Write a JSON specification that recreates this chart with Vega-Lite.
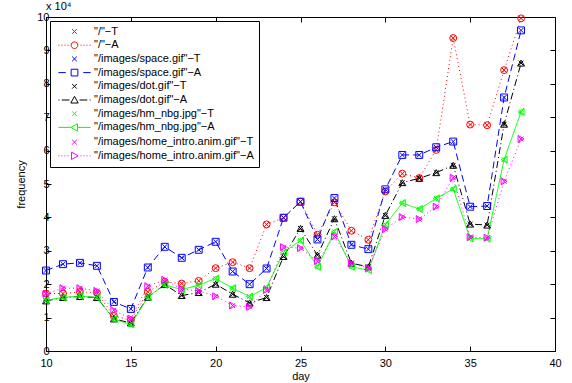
{
  "$schema": "https://vega.github.io/schema/vega-lite/v6.json",
  "width": 509,
  "height": 334,
  "autosize": {"type": "none"},
  "padding": {"left": 46, "top": 17, "right": 17, "bottom": 32},
  "background": "white",
  "title": {"text": "x 10⁴", "anchor": "start", "frame": "group", "fontSize": 11, "fontWeight": "normal", "font": "Liberation Sans", "offset": 3, "dy": 4, "color": "black"},
  "config": {
    "view": {"stroke": "black", "strokeWidth": 1},
    "font": "Liberation Sans",
    "axis": {"labelFont": "Liberation Sans", "titleFont": "Liberation Sans", "labelFontSize": 11, "titleFontSize": 11, "titleFontWeight": "normal", "labelColor": "black", "titleColor": "black", "domainColor": "black", "tickColor": "black", "grid": false},
    "legend": {"orient": "top-left", "offset": 4, "padding": 5, "fillColor": "white", "strokeColor": "black", "cornerRadius": 0, "labelFont": "Liberation Sans", "labelFontSize": 11, "labelColor": "black", "labelLimit": 300, "symbolOffset": 14, "labelOffset": 14, "rowPadding": 1.7, "symbolStrokeWidth": 1, "symbolSize": 45}
  },
  "resolve": {"axis": {"x": "independent", "y": "independent"}, "scale": {"shape": "independent", "color": "independent"}},
  "data": {"values": [
{"d":10,"s":"\"/\"−T","f":17200},{"d":11,"s":"\"/\"−T","f":17200},{"d":12,"s":"\"/\"−T","f":17700},{"d":13,"s":"\"/\"−T","f":17500},{"d":14,"s":"\"/\"−T","f":10500},{"d":15,"s":"\"/\"−T","f":9200},{"d":16,"s":"\"/\"−T","f":17700},{"d":17,"s":"\"/\"−T","f":20700},{"d":18,"s":"\"/\"−T","f":20200},{"d":19,"s":"\"/\"−T","f":21000},{"d":20,"s":"\"/\"−T","f":24800},{"d":21,"s":"\"/\"−T","f":26600},{"d":22,"s":"\"/\"−T","f":24800},{"d":23,"s":"\"/\"−T","f":37900},{"d":24,"s":"\"/\"−T","f":39900},{"d":25,"s":"\"/\"−T","f":44700},{"d":26,"s":"\"/\"−T","f":34800},{"d":27,"s":"\"/\"−T","f":44500},{"d":28,"s":"\"/\"−T","f":36000},{"d":29,"s":"\"/\"−T","f":33300},{"d":30,"s":"\"/\"−T","f":47800},{"d":31,"s":"\"/\"−T","f":53100},{"d":32,"s":"\"/\"−T","f":51800},{"d":33,"s":"\"/\"−T","f":60200},{"d":34,"s":"\"/\"−T","f":93700},{"d":35,"s":"\"/\"−T","f":67800},{"d":36,"s":"\"/\"−T","f":67600},{"d":37,"s":"\"/\"−T","f":84100},{"d":38,"s":"\"/\"−T","f":99600},
{"d":10,"s":"\"/\"−A","f":17200},{"d":11,"s":"\"/\"−A","f":17200},{"d":12,"s":"\"/\"−A","f":17700},{"d":13,"s":"\"/\"−A","f":17500},{"d":14,"s":"\"/\"−A","f":10500},{"d":15,"s":"\"/\"−A","f":9200},{"d":16,"s":"\"/\"−A","f":17700},{"d":17,"s":"\"/\"−A","f":20700},{"d":18,"s":"\"/\"−A","f":20200},{"d":19,"s":"\"/\"−A","f":21000},{"d":20,"s":"\"/\"−A","f":24800},{"d":21,"s":"\"/\"−A","f":26600},{"d":22,"s":"\"/\"−A","f":24800},{"d":23,"s":"\"/\"−A","f":37900},{"d":24,"s":"\"/\"−A","f":39900},{"d":25,"s":"\"/\"−A","f":44700},{"d":26,"s":"\"/\"−A","f":34800},{"d":27,"s":"\"/\"−A","f":44500},{"d":28,"s":"\"/\"−A","f":36000},{"d":29,"s":"\"/\"−A","f":33300},{"d":30,"s":"\"/\"−A","f":47800},{"d":31,"s":"\"/\"−A","f":53100},{"d":32,"s":"\"/\"−A","f":51800},{"d":33,"s":"\"/\"−A","f":60200},{"d":34,"s":"\"/\"−A","f":93700},{"d":35,"s":"\"/\"−A","f":67800},{"d":36,"s":"\"/\"−A","f":67600},{"d":37,"s":"\"/\"−A","f":84100},{"d":38,"s":"\"/\"−A","f":99600},
{"d":10,"s":"\"/images/space.gif\"−T","f":24100},{"d":11,"s":"\"/images/space.gif\"−T","f":26000},{"d":12,"s":"\"/images/space.gif\"−T","f":26400},{"d":13,"s":"\"/images/space.gif\"−T","f":25500},{"d":14,"s":"\"/images/space.gif\"−T","f":14700},{"d":15,"s":"\"/images/space.gif\"−T","f":12600},{"d":16,"s":"\"/images/space.gif\"−T","f":25000},{"d":17,"s":"\"/images/space.gif\"−T","f":31200},{"d":18,"s":"\"/images/space.gif\"−T","f":27900},{"d":19,"s":"\"/images/space.gif\"−T","f":30300},{"d":20,"s":"\"/images/space.gif\"−T","f":32700},{"d":21,"s":"\"/images/space.gif\"−T","f":23800},{"d":22,"s":"\"/images/space.gif\"−T","f":20000},{"d":23,"s":"\"/images/space.gif\"−T","f":24700},{"d":24,"s":"\"/images/space.gif\"−T","f":39900},{"d":25,"s":"\"/images/space.gif\"−T","f":44700},{"d":26,"s":"\"/images/space.gif\"−T","f":33400},{"d":27,"s":"\"/images/space.gif\"−T","f":45800},{"d":28,"s":"\"/images/space.gif\"−T","f":31800},{"d":29,"s":"\"/images/space.gif\"−T","f":30500},{"d":30,"s":"\"/images/space.gif\"−T","f":48400},{"d":31,"s":"\"/images/space.gif\"−T","f":58700},{"d":32,"s":"\"/images/space.gif\"−T","f":58700},{"d":33,"s":"\"/images/space.gif\"−T","f":61000},{"d":34,"s":"\"/images/space.gif\"−T","f":62700},{"d":35,"s":"\"/images/space.gif\"−T","f":43200},{"d":36,"s":"\"/images/space.gif\"−T","f":43400},{"d":37,"s":"\"/images/space.gif\"−T","f":75900},{"d":38,"s":"\"/images/space.gif\"−T","f":96000},
{"d":10,"s":"\"/images/space.gif\"−A","f":24100},{"d":11,"s":"\"/images/space.gif\"−A","f":26000},{"d":12,"s":"\"/images/space.gif\"−A","f":26400},{"d":13,"s":"\"/images/space.gif\"−A","f":25500},{"d":14,"s":"\"/images/space.gif\"−A","f":14700},{"d":15,"s":"\"/images/space.gif\"−A","f":12600},{"d":16,"s":"\"/images/space.gif\"−A","f":25000},{"d":17,"s":"\"/images/space.gif\"−A","f":31200},{"d":18,"s":"\"/images/space.gif\"−A","f":27900},{"d":19,"s":"\"/images/space.gif\"−A","f":30300},{"d":20,"s":"\"/images/space.gif\"−A","f":32700},{"d":21,"s":"\"/images/space.gif\"−A","f":23800},{"d":22,"s":"\"/images/space.gif\"−A","f":20000},{"d":23,"s":"\"/images/space.gif\"−A","f":24700},{"d":24,"s":"\"/images/space.gif\"−A","f":39900},{"d":25,"s":"\"/images/space.gif\"−A","f":44700},{"d":26,"s":"\"/images/space.gif\"−A","f":33400},{"d":27,"s":"\"/images/space.gif\"−A","f":45800},{"d":28,"s":"\"/images/space.gif\"−A","f":31800},{"d":29,"s":"\"/images/space.gif\"−A","f":30500},{"d":30,"s":"\"/images/space.gif\"−A","f":48400},{"d":31,"s":"\"/images/space.gif\"−A","f":58700},{"d":32,"s":"\"/images/space.gif\"−A","f":58700},{"d":33,"s":"\"/images/space.gif\"−A","f":61000},{"d":34,"s":"\"/images/space.gif\"−A","f":62700},{"d":35,"s":"\"/images/space.gif\"−A","f":43200},{"d":36,"s":"\"/images/space.gif\"−A","f":43400},{"d":37,"s":"\"/images/space.gif\"−A","f":75900},{"d":38,"s":"\"/images/space.gif\"−A","f":96000},
{"d":10,"s":"\"/images/dot.gif\"−T","f":15000},{"d":11,"s":"\"/images/dot.gif\"−T","f":16000},{"d":12,"s":"\"/images/dot.gif\"−T","f":16300},{"d":13,"s":"\"/images/dot.gif\"−T","f":16000},{"d":14,"s":"\"/images/dot.gif\"−T","f":9600},{"d":15,"s":"\"/images/dot.gif\"−T","f":8400},{"d":16,"s":"\"/images/dot.gif\"−T","f":16100},{"d":17,"s":"\"/images/dot.gif\"−T","f":19900},{"d":18,"s":"\"/images/dot.gif\"−T","f":16600},{"d":19,"s":"\"/images/dot.gif\"−T","f":17500},{"d":20,"s":"\"/images/dot.gif\"−T","f":20000},{"d":21,"s":"\"/images/dot.gif\"−T","f":17000},{"d":22,"s":"\"/images/dot.gif\"−T","f":14400},{"d":23,"s":"\"/images/dot.gif\"−T","f":16000},{"d":24,"s":"\"/images/dot.gif\"−T","f":28300},{"d":25,"s":"\"/images/dot.gif\"−T","f":36700},{"d":26,"s":"\"/images/dot.gif\"−T","f":28700},{"d":27,"s":"\"/images/dot.gif\"−T","f":39600},{"d":28,"s":"\"/images/dot.gif\"−T","f":26300},{"d":29,"s":"\"/images/dot.gif\"−T","f":25200},{"d":30,"s":"\"/images/dot.gif\"−T","f":40600},{"d":31,"s":"\"/images/dot.gif\"−T","f":50400},{"d":32,"s":"\"/images/dot.gif\"−T","f":51700},{"d":33,"s":"\"/images/dot.gif\"−T","f":53400},{"d":34,"s":"\"/images/dot.gif\"−T","f":55600},{"d":35,"s":"\"/images/dot.gif\"−T","f":38000},{"d":36,"s":"\"/images/dot.gif\"−T","f":37700},{"d":37,"s":"\"/images/dot.gif\"−T","f":67900},{"d":38,"s":"\"/images/dot.gif\"−T","f":86200},
{"d":10,"s":"\"/images/dot.gif\"−A","f":15000},{"d":11,"s":"\"/images/dot.gif\"−A","f":16000},{"d":12,"s":"\"/images/dot.gif\"−A","f":16300},{"d":13,"s":"\"/images/dot.gif\"−A","f":16000},{"d":14,"s":"\"/images/dot.gif\"−A","f":9600},{"d":15,"s":"\"/images/dot.gif\"−A","f":8400},{"d":16,"s":"\"/images/dot.gif\"−A","f":16100},{"d":17,"s":"\"/images/dot.gif\"−A","f":19900},{"d":18,"s":"\"/images/dot.gif\"−A","f":16600},{"d":19,"s":"\"/images/dot.gif\"−A","f":17500},{"d":20,"s":"\"/images/dot.gif\"−A","f":20000},{"d":21,"s":"\"/images/dot.gif\"−A","f":17000},{"d":22,"s":"\"/images/dot.gif\"−A","f":14400},{"d":23,"s":"\"/images/dot.gif\"−A","f":16000},{"d":24,"s":"\"/images/dot.gif\"−A","f":28300},{"d":25,"s":"\"/images/dot.gif\"−A","f":36700},{"d":26,"s":"\"/images/dot.gif\"−A","f":28700},{"d":27,"s":"\"/images/dot.gif\"−A","f":39600},{"d":28,"s":"\"/images/dot.gif\"−A","f":26300},{"d":29,"s":"\"/images/dot.gif\"−A","f":25200},{"d":30,"s":"\"/images/dot.gif\"−A","f":40600},{"d":31,"s":"\"/images/dot.gif\"−A","f":50400},{"d":32,"s":"\"/images/dot.gif\"−A","f":51700},{"d":33,"s":"\"/images/dot.gif\"−A","f":53400},{"d":34,"s":"\"/images/dot.gif\"−A","f":55600},{"d":35,"s":"\"/images/dot.gif\"−A","f":38000},{"d":36,"s":"\"/images/dot.gif\"−A","f":37700},{"d":37,"s":"\"/images/dot.gif\"−A","f":67900},{"d":38,"s":"\"/images/dot.gif\"−A","f":86200},
{"d":10,"s":"\"/images/hm_nbg.jpg\"−T","f":15200},{"d":11,"s":"\"/images/hm_nbg.jpg\"−T","f":16000},{"d":12,"s":"\"/images/hm_nbg.jpg\"−T","f":16500},{"d":13,"s":"\"/images/hm_nbg.jpg\"−T","f":16000},{"d":14,"s":"\"/images/hm_nbg.jpg\"−T","f":9600},{"d":15,"s":"\"/images/hm_nbg.jpg\"−T","f":7900},{"d":16,"s":"\"/images/hm_nbg.jpg\"−T","f":16200},{"d":17,"s":"\"/images/hm_nbg.jpg\"−T","f":19800},{"d":18,"s":"\"/images/hm_nbg.jpg\"−T","f":18400},{"d":19,"s":"\"/images/hm_nbg.jpg\"−T","f":19700},{"d":20,"s":"\"/images/hm_nbg.jpg\"−T","f":21700},{"d":21,"s":"\"/images/hm_nbg.jpg\"−T","f":18800},{"d":22,"s":"\"/images/hm_nbg.jpg\"−T","f":16300},{"d":23,"s":"\"/images/hm_nbg.jpg\"−T","f":19000},{"d":24,"s":"\"/images/hm_nbg.jpg\"−T","f":29500},{"d":25,"s":"\"/images/hm_nbg.jpg\"−T","f":33100},{"d":26,"s":"\"/images/hm_nbg.jpg\"−T","f":25200},{"d":27,"s":"\"/images/hm_nbg.jpg\"−T","f":35700},{"d":28,"s":"\"/images/hm_nbg.jpg\"−T","f":25200},{"d":29,"s":"\"/images/hm_nbg.jpg\"−T","f":24200},{"d":30,"s":"\"/images/hm_nbg.jpg\"−T","f":37800},{"d":31,"s":"\"/images/hm_nbg.jpg\"−T","f":44300},{"d":32,"s":"\"/images/hm_nbg.jpg\"−T","f":42500},{"d":33,"s":"\"/images/hm_nbg.jpg\"−T","f":45700},{"d":34,"s":"\"/images/hm_nbg.jpg\"−T","f":48500},{"d":35,"s":"\"/images/hm_nbg.jpg\"−T","f":33700},{"d":36,"s":"\"/images/hm_nbg.jpg\"−T","f":33600},{"d":37,"s":"\"/images/hm_nbg.jpg\"−T","f":57300},{"d":38,"s":"\"/images/hm_nbg.jpg\"−T","f":71600},
{"d":10,"s":"\"/images/hm_nbg.jpg\"−A","f":15200},{"d":11,"s":"\"/images/hm_nbg.jpg\"−A","f":16000},{"d":12,"s":"\"/images/hm_nbg.jpg\"−A","f":16500},{"d":13,"s":"\"/images/hm_nbg.jpg\"−A","f":16000},{"d":14,"s":"\"/images/hm_nbg.jpg\"−A","f":9600},{"d":15,"s":"\"/images/hm_nbg.jpg\"−A","f":7900},{"d":16,"s":"\"/images/hm_nbg.jpg\"−A","f":16200},{"d":17,"s":"\"/images/hm_nbg.jpg\"−A","f":19800},{"d":18,"s":"\"/images/hm_nbg.jpg\"−A","f":18400},{"d":19,"s":"\"/images/hm_nbg.jpg\"−A","f":19700},{"d":20,"s":"\"/images/hm_nbg.jpg\"−A","f":21700},{"d":21,"s":"\"/images/hm_nbg.jpg\"−A","f":18800},{"d":22,"s":"\"/images/hm_nbg.jpg\"−A","f":16300},{"d":23,"s":"\"/images/hm_nbg.jpg\"−A","f":19000},{"d":24,"s":"\"/images/hm_nbg.jpg\"−A","f":29500},{"d":25,"s":"\"/images/hm_nbg.jpg\"−A","f":33100},{"d":26,"s":"\"/images/hm_nbg.jpg\"−A","f":25200},{"d":27,"s":"\"/images/hm_nbg.jpg\"−A","f":35700},{"d":28,"s":"\"/images/hm_nbg.jpg\"−A","f":25200},{"d":29,"s":"\"/images/hm_nbg.jpg\"−A","f":24200},{"d":30,"s":"\"/images/hm_nbg.jpg\"−A","f":37800},{"d":31,"s":"\"/images/hm_nbg.jpg\"−A","f":44300},{"d":32,"s":"\"/images/hm_nbg.jpg\"−A","f":42500},{"d":33,"s":"\"/images/hm_nbg.jpg\"−A","f":45700},{"d":34,"s":"\"/images/hm_nbg.jpg\"−A","f":48500},{"d":35,"s":"\"/images/hm_nbg.jpg\"−A","f":33700},{"d":36,"s":"\"/images/hm_nbg.jpg\"−A","f":33600},{"d":37,"s":"\"/images/hm_nbg.jpg\"−A","f":57300},{"d":38,"s":"\"/images/hm_nbg.jpg\"−A","f":71600},
{"d":10,"s":"\"/images/home_intro.anim.gif\"−T","f":17100},{"d":11,"s":"\"/images/home_intro.anim.gif\"−T","f":18800},{"d":12,"s":"\"/images/home_intro.anim.gif\"−T","f":18800},{"d":13,"s":"\"/images/home_intro.anim.gif\"−T","f":18000},{"d":14,"s":"\"/images/home_intro.anim.gif\"−T","f":12200},{"d":15,"s":"\"/images/home_intro.anim.gif\"−T","f":9700},{"d":16,"s":"\"/images/home_intro.anim.gif\"−T","f":19400},{"d":17,"s":"\"/images/home_intro.anim.gif\"−T","f":21300},{"d":18,"s":"\"/images/home_intro.anim.gif\"−T","f":18500},{"d":19,"s":"\"/images/home_intro.anim.gif\"−T","f":18000},{"d":20,"s":"\"/images/home_intro.anim.gif\"−T","f":16400},{"d":21,"s":"\"/images/home_intro.anim.gif\"−T","f":13600},{"d":22,"s":"\"/images/home_intro.anim.gif\"−T","f":13200},{"d":23,"s":"\"/images/home_intro.anim.gif\"−T","f":18300},{"d":24,"s":"\"/images/home_intro.anim.gif\"−T","f":31100},{"d":25,"s":"\"/images/home_intro.anim.gif\"−T","f":30800},{"d":26,"s":"\"/images/home_intro.anim.gif\"−T","f":26900},{"d":27,"s":"\"/images/home_intro.anim.gif\"−T","f":34300},{"d":28,"s":"\"/images/home_intro.anim.gif\"−T","f":26300},{"d":29,"s":"\"/images/home_intro.anim.gif\"−T","f":24800},{"d":30,"s":"\"/images/home_intro.anim.gif\"−T","f":36500},{"d":31,"s":"\"/images/home_intro.anim.gif\"−T","f":40100},{"d":32,"s":"\"/images/home_intro.anim.gif\"−T","f":39500},{"d":33,"s":"\"/images/home_intro.anim.gif\"−T","f":43200},{"d":34,"s":"\"/images/home_intro.anim.gif\"−T","f":51900},{"d":35,"s":"\"/images/home_intro.anim.gif\"−T","f":34100},{"d":36,"s":"\"/images/home_intro.anim.gif\"−T","f":33900},{"d":37,"s":"\"/images/home_intro.anim.gif\"−T","f":50800},{"d":38,"s":"\"/images/home_intro.anim.gif\"−T","f":63500},
{"d":10,"s":"\"/images/home_intro.anim.gif\"−A","f":17100},{"d":11,"s":"\"/images/home_intro.anim.gif\"−A","f":18800},{"d":12,"s":"\"/images/home_intro.anim.gif\"−A","f":18800},{"d":13,"s":"\"/images/home_intro.anim.gif\"−A","f":18000},{"d":14,"s":"\"/images/home_intro.anim.gif\"−A","f":12200},{"d":15,"s":"\"/images/home_intro.anim.gif\"−A","f":9700},{"d":16,"s":"\"/images/home_intro.anim.gif\"−A","f":19400},{"d":17,"s":"\"/images/home_intro.anim.gif\"−A","f":21300},{"d":18,"s":"\"/images/home_intro.anim.gif\"−A","f":18500},{"d":19,"s":"\"/images/home_intro.anim.gif\"−A","f":18000},{"d":20,"s":"\"/images/home_intro.anim.gif\"−A","f":16400},{"d":21,"s":"\"/images/home_intro.anim.gif\"−A","f":13600},{"d":22,"s":"\"/images/home_intro.anim.gif\"−A","f":13200},{"d":23,"s":"\"/images/home_intro.anim.gif\"−A","f":18300},{"d":24,"s":"\"/images/home_intro.anim.gif\"−A","f":31100},{"d":25,"s":"\"/images/home_intro.anim.gif\"−A","f":30800},{"d":26,"s":"\"/images/home_intro.anim.gif\"−A","f":26900},{"d":27,"s":"\"/images/home_intro.anim.gif\"−A","f":34300},{"d":28,"s":"\"/images/home_intro.anim.gif\"−A","f":26300},{"d":29,"s":"\"/images/home_intro.anim.gif\"−A","f":24800},{"d":30,"s":"\"/images/home_intro.anim.gif\"−A","f":36500},{"d":31,"s":"\"/images/home_intro.anim.gif\"−A","f":40100},{"d":32,"s":"\"/images/home_intro.anim.gif\"−A","f":39500},{"d":33,"s":"\"/images/home_intro.anim.gif\"−A","f":43200},{"d":34,"s":"\"/images/home_intro.anim.gif\"−A","f":51900},{"d":35,"s":"\"/images/home_intro.anim.gif\"−A","f":34100},{"d":36,"s":"\"/images/home_intro.anim.gif\"−A","f":33900},{"d":37,"s":"\"/images/home_intro.anim.gif\"−A","f":50800},{"d":38,"s":"\"/images/home_intro.anim.gif\"−A","f":63500}
  ]},
  "encoding": {
    "color": {"field": "s", "type": "nominal", "legend": null,
      "scale": {
        "domain": ["\"/\"−T", "\"/\"−A", "\"/images/space.gif\"−T", "\"/images/space.gif\"−A", "\"/images/dot.gif\"−T", "\"/images/dot.gif\"−A", "\"/images/hm_nbg.jpg\"−T", "\"/images/hm_nbg.jpg\"−A", "\"/images/home_intro.anim.gif\"−T", "\"/images/home_intro.anim.gif\"−A"],
        "range": ["#ff0000", "#ff0000", "#0000ff", "#0000ff", "#000000", "#000000", "#00ff00", "#00ff00", "#ff00ff", "#ff00ff"]}}
  },
  "layer": [
    {
      "transform": [{"filter": {"field": "s", "oneOf": ["\"/\"−A", "\"/images/space.gif\"−A", "\"/images/dot.gif\"−A", "\"/images/hm_nbg.jpg\"−A", "\"/images/home_intro.anim.gif\"−A"]}}],
      "mark": {"type": "line", "strokeWidth": 1},
      "encoding": {
        "x": {"field": "d", "type": "quantitative", "title": "day",
          "scale": {"domain": [10, 40], "nice": false, "zero": false},
          "axis": {"orient": "bottom", "values": [10, 15, 20, 25, 30, 35, 40], "tickSize": -5, "labelPadding": 11, "titlePadding": 2, "labelFlush": false}},
        "y": {"field": "f", "type": "quantitative", "title": "frequency",
          "scale": {"domain": [0, 100000], "nice": false},
          "axis": {"orient": "left", "values": [0, 10000, 20000, 30000, 40000, 50000, 60000, 70000, 80000, 90000, 100000], "labelExpr": "format(datum.value / 10000, 'd')", "tickSize": -5, "labelPadding": 2, "titlePadding": 10, "labelFlush": false}},
        "strokeDash": {"field": "s", "type": "nominal", "legend": null,
          "scale": {"domain": ["\"/\"−A", "\"/images/space.gif\"−A", "\"/images/dot.gif\"−A", "\"/images/hm_nbg.jpg\"−A", "\"/images/home_intro.anim.gif\"−A"],
            "range": [[1, 3], [7, 4], [7, 3, 1, 3], [1, 0], [1, 3]]}}
      }
    },
    {
      "mark": {"type": "point", "filled": false, "strokeWidth": 1, "size": 48, "opacity": 1},
      "encoding": {
        "x": {"field": "d", "type": "quantitative", "scale": {"domain": [10, 40], "nice": false, "zero": false}, "axis": null},
        "y": {"field": "f", "type": "quantitative", "scale": {"domain": [0, 100000], "nice": false}, "axis": null},
        "shape": {"field": "s", "type": "nominal", "legend": null,
          "scale": {
            "domain": ["\"/\"−T", "\"/\"−A", "\"/images/space.gif\"−T", "\"/images/space.gif\"−A", "\"/images/dot.gif\"−T", "\"/images/dot.gif\"−A", "\"/images/hm_nbg.jpg\"−T", "\"/images/hm_nbg.jpg\"−A", "\"/images/home_intro.anim.gif\"−T", "\"/images/home_intro.anim.gif\"−A"],
            "range": ["M-0.7,-0.7L0.7,0.7M-0.7,0.7L0.7,-0.7", "circle", "M-0.7,-0.7L0.7,0.7M-0.7,0.7L0.7,-0.7", "square", "M-0.7,-0.7L0.7,0.7M-0.7,0.7L0.7,-0.7", "triangle-up", "M-0.7,-0.7L0.7,0.7M-0.7,0.7L0.7,-0.7", "triangle-left", "M-0.7,-0.7L0.7,0.7M-0.7,0.7L0.7,-0.7", "triangle-right"]}}
      }
    },
    {
      "mark": {"type": "point", "filled": false, "opacity": 0, "size": 45},
      "encoding": {
        "x": {"field": "d", "type": "quantitative", "scale": {"domain": [10, 40], "nice": false, "zero": false},
          "axis": {"orient": "top", "values": [10, 15, 20, 25, 30, 35, 40], "tickSize": -5, "labels": false, "title": null, "domain": false}},
        "y": {"field": "f", "type": "quantitative", "scale": {"domain": [0, 100000], "nice": false},
          "axis": {"orient": "right", "values": [0, 10000, 20000, 30000, 40000, 50000, 60000, 70000, 80000, 90000, 100000], "tickSize": -5, "labels": false, "title": null, "domain": false}},
        "color": {"field": "s", "type": "nominal",
          "scale": {
            "domain": ["\"/\"−T", "\"/\"−A", "\"/images/space.gif\"−T", "\"/images/space.gif\"−A", "\"/images/dot.gif\"−T", "\"/images/dot.gif\"−A", "\"/images/hm_nbg.jpg\"−T", "\"/images/hm_nbg.jpg\"−A", "\"/images/home_intro.anim.gif\"−T", "\"/images/home_intro.anim.gif\"−A"],
            "range": ["#ff0000", "#ff0000", "#0000ff", "#0000ff", "#000000", "#000000", "#00ff00", "#00ff00", "#ff00ff", "#ff00ff"]},
          "legend": {"title": null, "symbolOpacity": 1, "symbolFillColor": "transparent"}},
        "shape": {"field": "s", "type": "nominal",
          "scale": {
            "domain": ["\"/\"−T", "\"/\"−A", "\"/images/space.gif\"−T", "\"/images/space.gif\"−A", "\"/images/dot.gif\"−T", "\"/images/dot.gif\"−A", "\"/images/hm_nbg.jpg\"−T", "\"/images/hm_nbg.jpg\"−A", "\"/images/home_intro.anim.gif\"−T", "\"/images/home_intro.anim.gif\"−A"],
            "range": ["M-0.7,-0.7L0.7,0.7M-0.7,0.7L0.7,-0.7", "M1,0A1,1,0,1,1,-1,0A1,1,0,1,1,1,0M-4.8,0L-4.5,0M-3.9,0L-3.6,0M-3.0,0L-2.7,0M-2.1,0L-1.8,0M1.8,0L2.1,0M2.7,0L3.0,0M3.6,0L3.9,0M4.5,0L4.8,0", "M-0.7,-0.7L0.7,0.7M-0.7,0.7L0.7,-0.7", "M-1,-1L1,-1L1,1L-1,1ZM-4.8,0L-2.6,0M2.6,0L4.8,0", "M-0.7,-0.7L0.7,0.7M-0.7,0.7L0.7,-0.7", "M0,-1.1L1.1,0.9L-1.1,0.9ZM-4.8,0L-4.5,0M-3.8,0L-1.5,0M1.5,0L3.8,0M4.5,0L4.8,0", "M-0.7,-0.7L0.7,0.7M-0.7,0.7L0.7,-0.7", "M-1.1,0L0.9,-1.1L0.9,1.1ZM-4.8,0L-1.1,0M0.9,0L4.8,0", "M-0.7,-0.7L0.7,0.7M-0.7,0.7L0.7,-0.7", "M1.1,0L-0.9,-1.1L-0.9,1.1ZM-4.8,0L-4.5,0M-3.9,0L-3.6,0M-3.0,0L-2.7,0M-2.1,0L-1.8,0M1.8,0L2.1,0M2.7,0L3.0,0M3.6,0L3.9,0M4.5,0L4.8,0"]},
          "legend": {"title": null, "symbolOpacity": 1, "symbolFillColor": "transparent"}}
      }
    }
  ]
}
